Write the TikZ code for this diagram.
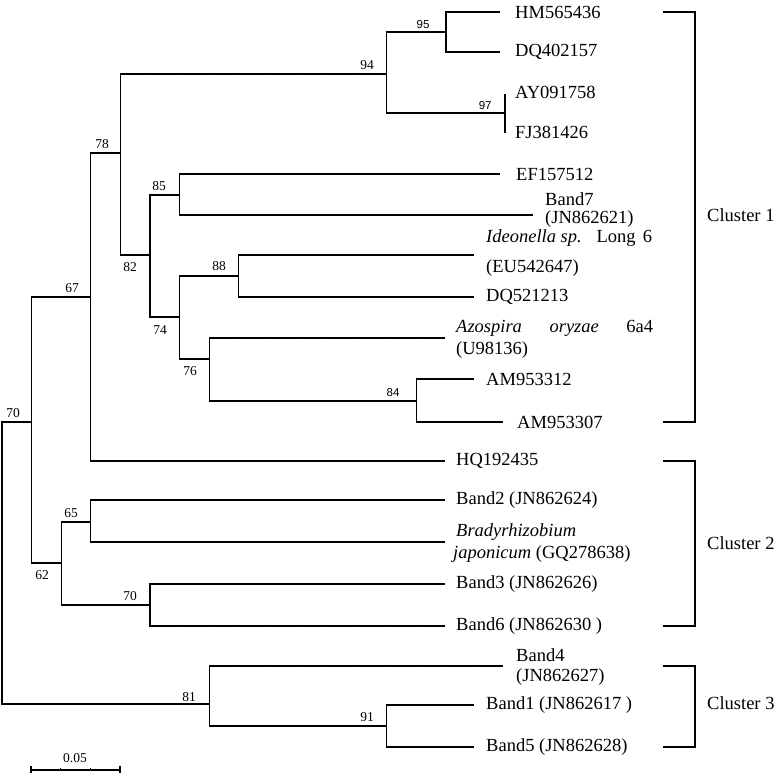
\documentclass[tikz,border=0pt]{standalone}
\usepackage{fontspec}
\setmainfont{Liberation Serif}
\newfontfamily\bsans{Liberation Sans}
\usetikzlibrary{decorations.pathreplacing}

\tikzset{
  br/.style={line width=1.3pt},
  tk/.style={decorate, decoration={ticks, segment length=29.6pt, amplitude=1.2pt}, line width=0.6pt},
  leaf/.style={anchor=west, inner sep=0pt, align=left, font=\fontsize{18.5}{15}\selectfont},
  bs/.style={inner sep=0pt, font=\fontsize{13.5}{14}\selectfont},
  bss/.style={inner sep=0pt, font=\bsans\fontsize{11.5}{12}\selectfont},
  clu/.style={anchor=west, inner sep=0pt, font=\fontsize{18.5}{20}\selectfont},
  brk/.style={line width=1.6pt},
}
\newcommand\tbranch[2]{\draw[br] (#1) |- (#2); \draw[tk] (#1 |- #2) -- (#2);}

\begin{document}
\begin{tikzpicture}[x=1pt,y=-1pt]
    \useasboundingbox (0,0) rectangle (775,775);

    % inner nodes of the tree
    \coordinate (root) at (2,563);
    \coordinate (n70a) at (31.6,422);
    \coordinate (n67) at (90.8,297);
    \coordinate (n78) at (120.4,153);
    \coordinate (n94) at (386.8,74);
    \coordinate (n95) at (446,32);
    \coordinate (n97) at (505.2,113);
    \coordinate (n82) at (150,255);
    \coordinate (n85) at (179.6,195);
    \coordinate (n74) at (179.6,317);
    \coordinate (n88) at (238.8,276);
    \coordinate (n76) at (209.2,359);
    \coordinate (n84) at (416.4,401);
    \coordinate (n62) at (61.2,563);
    \coordinate (n65) at (90.8,522);
    \coordinate (n70b) at (150,605);
    \coordinate (n81) at (209.2,704);
    \coordinate (n91) at (386.8,726);

    % tips
    \coordinate (HM) at (500,12);
    \coordinate (DQa) at (500,52);
    \coordinate (AY) at (505.2,94);
    \coordinate (FJ) at (505.2,133);
    \coordinate (EF) at (500,174);
    \coordinate (B7) at (533,215);
    \coordinate (Ideo) at (474,255);
    \coordinate (DQb) at (474,297);
    \coordinate (Azo) at (445,338);
    \coordinate (AMa) at (474,379);
    \coordinate (AMb) at (503,422);
    \coordinate (HQ) at (445,461);
    \coordinate (B2) at (445,500);
    \coordinate (Brady) at (445,542);
    \coordinate (B3) at (445,584);
    \coordinate (B6) at (445,626);
    \coordinate (B4) at (503,666);
    \coordinate (B1) at (474,705);
    \coordinate (B5) at (474,747);

    % branches
    \foreach \p/\c in {root/n70a, root/n81, n70a/n67, n70a/n62, n67/n78, n67/HQ,
        n78/n94, n78/n82, n94/n95, n94/n97, n95/HM, n95/DQa, n82/n85, n82/n74,
        n85/EF, n85/B7, n74/n88, n74/n76, n88/Ideo, n88/DQb, n76/Azo, n76/n84,
        n84/AMa, n84/AMb, n62/n65, n62/n70b, n65/B2, n65/Brady, n70b/B3, n70b/B6,
        n81/B4, n81/n91, n91/B1, n91/B5}
        {\tbranch{\p}{\c}}
    \draw[br, line width=1.8pt] (n97) |- (AY);
    \draw[br, line width=1.8pt] (n97) |- (FJ);

    % bootstrap values
    \node[bs] (b70a) at ([shift={(-18.6,-9)}]n70a) {70};
    \node[bs] (b67) at ([shift={(-18.8,-9)}]n67) {67};
    \node[bs] (b78) at ([shift={(-18.4,-9)}]n78) {78};
    \node[bs] (b94) at ([shift={(-19.8,-9)}]n94) {94};
    \node[bss] (b95) at ([shift={(-23,-7)}]n95) {95};
    \node[bss] (b97) at ([shift={(-20,-7)}]n97) {97};
    \node[bs] (b85) at ([shift={(-20.6,-9)}]n85) {85};
    \node[bs] (b82) at ([shift={(-20,12)}]n82) {82};
    \node[bs] (b88) at ([shift={(-19.8,-10)}]n88) {88};
    \node[bs] (b74) at ([shift={(-19.6,13)}]n74) {74};
    \node[bs] (b76) at ([shift={(-19.2,12)}]n76) {76};
    \node[bss] (b84) at ([shift={(-23.4,-8)}]n84) {84};
    \node[bs] (b65) at ([shift={(-19.8,-9)}]n65) {65};
    \node[bs] (b62) at ([shift={(-19.2,12)}]n62) {62};
    \node[bs] (b70b) at ([shift={(-20,-9)}]n70b) {70};
    \node[bs] (b81) at ([shift={(-20.2,-7)}]n81) {81};
    \node[bs] (b91) at ([shift={(-19.8,-9)}]n91) {91};

    % tip labels
    \node[leaf] (tHM) at (515,12) {HM565436};
    \node[leaf] (tDQa) at (515,52) {DQ402157};
    \node[leaf] (tAY) at (515,92) {AY091758};
    \node[leaf] (tFJ) at (515,132) {FJ381426};
    \node[leaf] (tEF) at (516,174) {EF157512};
    \node[leaf] (tB7) at (545,210) {Band7\\[3pt](JN862621)};
    \node[leaf] (tIdeo) at (486,253) {\hbox to 166pt{\textit{Ideonella sp.}\hspace{0pt plus 2fill}Long\hspace{0pt plus 1fill}6}\\[12pt](EU542647)};
    \node[leaf] (tDQb) at (486,297) {DQ521213};
    \node[leaf] (tAzo) at (456,339) {\hbox to 197pt{\textit{Azospira}\hfill\textit{oryzae}\hfill 6a4}\\[4pt](U98136)};
    \node[leaf] (tAMa) at (486,379) {AM953312};
    \node[leaf] (tAMb) at (517,422) {AM953307};
    \node[leaf] (tHQ) at (456,461) {HQ192435};
    \node[leaf] (tB2) at (456,500) {Band2 (JN862624)};
    \node[leaf] (tBrady) at (456,543) {\textit{Bradyrhizobium}\\[5pt]\hspace{-3pt}\textit{japonicum} (GQ278638)};
    \node[leaf] (tB3) at (456,584) {Band3 (JN862626)};
    \node[leaf] (tB6) at (456,626) {Band6 (JN862630 )};
    \node[leaf] (tB4) at (516,667) {Band4\\[5pt](JN862627)};
    \node[leaf] (tB1) at (486,705) {Band1 (JN862617 )};
    \node[leaf] (tB5) at (486,747) {Band5 (JN862628)};

    % clusters
    \coordinate (c1a) at (663,12);
    \coordinate (c1b) at (663,422);
    \coordinate (c2a) at (663,461);
    \coordinate (c2b) at (663,626);
    \coordinate (c3a) at (663,666);
    \coordinate (c3b) at (663,747);
    \draw[brk] (c1a) -- ++(32,0) |- (c1b);
    \draw[brk] (c2a) -- ++(32,0) |- (c2b);
    \draw[brk] (c3a) -- ++(32,0) |- (c3b);
    \node[clu] (cl1) at (707,215) {Cluster 1};
    \node[clu] (cl2) at (707,543) {Cluster 2};
    \node[clu] (cl3) at (707,703) {Cluster 3};

    % scale bar
    \coordinate (sa) at (31,770);
    \coordinate (sb) at (120,770);
    \draw[br] (sa) -- (sb);
    \draw[br] ([yshift=4pt]sa) -- ([yshift=-3pt]sa);
    \draw[br] ([yshift=4pt]sb) -- ([yshift=-3pt]sb);
    \foreach \k in {1,2}
        \draw[line width=0.6pt] ([xshift=\k*29.7pt]sa) -- ++(0,-2);
    \node[bs] (sl) at (75,758) {0.05};
\end{tikzpicture}
\end{document}
